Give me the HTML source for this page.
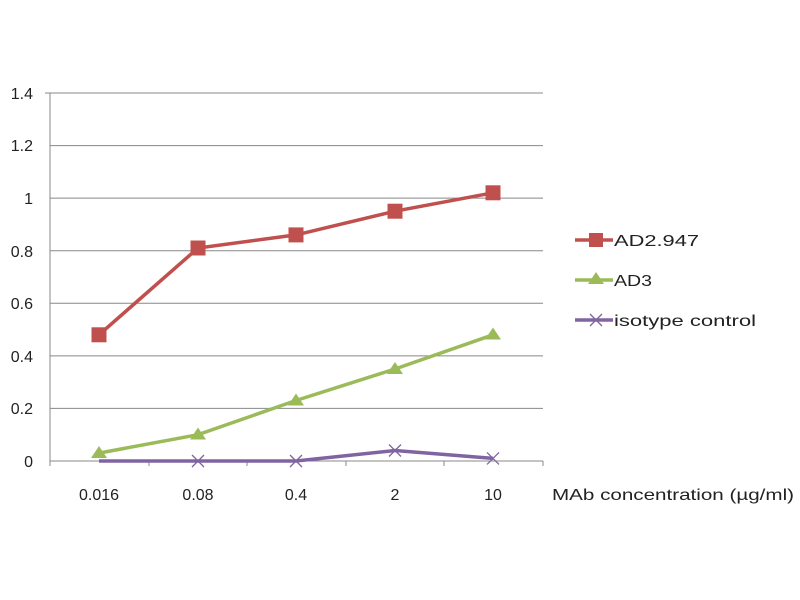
<!DOCTYPE html>
<html><head><meta charset="utf-8"><style>body{margin:0;background:#fff}svg{display:block}</style></head><body>
<svg width="800" height="600" xmlns="http://www.w3.org/2000/svg" font-family="Liberation Sans, sans-serif" font-size="16" fill="#222">
<g stroke="#888" stroke-width="1">
<line x1="50" y1="93" x2="543" y2="93"/>
<line x1="50" y1="145.6" x2="543" y2="145.6"/>
<line x1="50" y1="198.1" x2="543" y2="198.1"/>
<line x1="50" y1="250.7" x2="543" y2="250.7"/>
<line x1="50" y1="303.3" x2="543" y2="303.3"/>
<line x1="50" y1="355.9" x2="543" y2="355.9"/>
<line x1="50" y1="408.4" x2="543" y2="408.4"/>
<line x1="50" y1="461" x2="543" y2="461"/>
<line x1="50" y1="93" x2="50" y2="466"/>
<line x1="149" y1="461" x2="149" y2="466"/>
<line x1="247" y1="461" x2="247" y2="466"/>
<line x1="346" y1="461" x2="346" y2="466"/>
<line x1="444" y1="461" x2="444" y2="466"/>
<line x1="543" y1="461" x2="543" y2="466"/>
<line x1="45" y1="93" x2="50" y2="93"/>
</g>
<g text-anchor="end">
<text x="33" y="99">1.4</text><text x="33" y="151">1.2</text><text x="33" y="204">1</text>
<text x="33" y="257">0.8</text><text x="33" y="309">0.6</text><text x="33" y="362">0.4</text>
<text x="33" y="414">0.2</text><text x="33" y="467">0</text>
</g>
<g text-anchor="middle">
<text x="99" y="500">0.016</text><text x="198" y="500">0.08</text><text x="296" y="500">0.4</text>
<text x="395" y="500">2</text><text x="493" y="500">10</text>
</g>
<text x="552" y="500" textLength="242" lengthAdjust="spacingAndGlyphs">MAb concentration (µg/ml)</text>
<!-- isotype -->
<polyline points="99,461 198,461 296,461 395,450.5 493,458.4" fill="none" stroke="#8064a2" stroke-width="3.5"/>
<g stroke="#8064a2" stroke-width="1.3">
<path d="M192,455l12,12M204,455l-12,12"/><path d="M290,455l12,12M302,455l-12,12"/>
<path d="M389,444.5l12,12M401,444.5l-12,12"/><path d="M487,452.4l12,12M499,452.4l-12,12"/>
</g>
<!-- AD3 -->
<polyline points="99,453.1 198,434.7 296,400.5 395,369 493,334.8" fill="none" stroke="#9bbb59" stroke-width="3.5"/>
<g fill="#9bbb59">
<path d="M99,446l8,12h-16z"/><path d="M198,427.5l8,12h-16z"/><path d="M296,393.5l8,12h-16z"/>
<path d="M395,362l8,12h-16z"/><path d="M493,327.5l8,12h-16z"/>
</g>
<!-- AD2.947 -->
<polyline points="99,334.8 198,248 296,234.9 395,211.2 493,192.8" fill="none" stroke="#c0504d" stroke-width="3.5"/>
<g fill="#c0504d">
<rect x="91.5" y="327.3" width="15" height="15"/><rect x="190.5" y="240.5" width="15" height="15"/>
<rect x="288.5" y="227.4" width="15" height="15"/><rect x="387.5" y="203.7" width="15" height="15"/>
<rect x="485.5" y="185.3" width="15" height="15"/>
</g>
<!-- legend -->
<line x1="575" y1="240" x2="613" y2="240" stroke="#c0504d" stroke-width="3.5"/>
<rect x="589" y="233" width="14" height="14" fill="#c0504d"/>
<text x="614" y="246" textLength="85" lengthAdjust="spacingAndGlyphs">AD2.947</text>
<line x1="575" y1="280" x2="613" y2="280" stroke="#9bbb59" stroke-width="3.5"/>
<path d="M596,272l8,12h-16z" fill="#9bbb59"/>
<text x="614" y="286" textLength="38" lengthAdjust="spacingAndGlyphs">AD3</text>
<line x1="575" y1="320" x2="613" y2="320" stroke="#8064a2" stroke-width="3.5"/>
<path d="M590,314l12,12M602,314l-12,12" stroke="#8064a2" stroke-width="1.3"/>
<text x="614" y="326" textLength="142" lengthAdjust="spacingAndGlyphs">isotype control</text>
</svg>
</body></html>
